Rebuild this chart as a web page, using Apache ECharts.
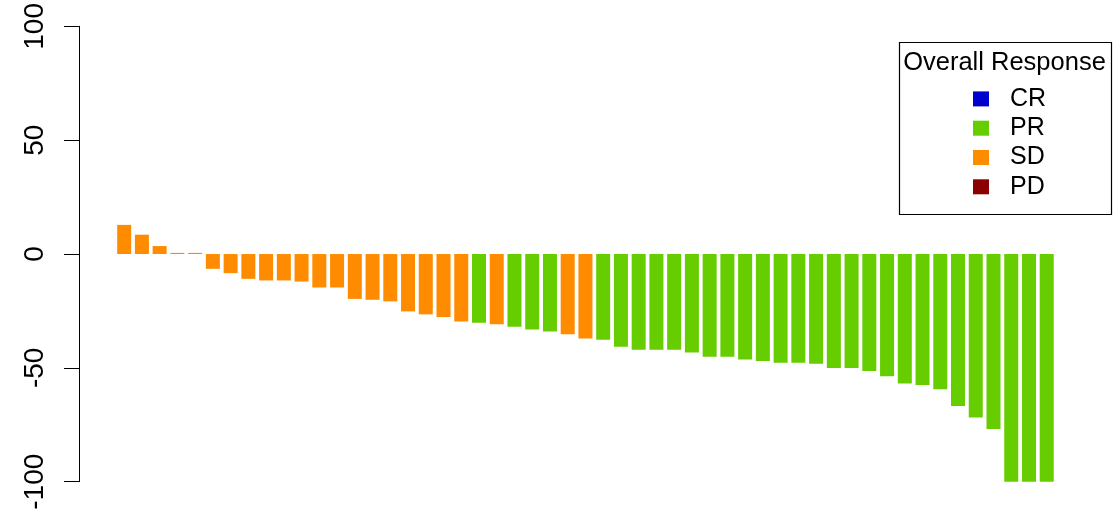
<!DOCTYPE html>
<html>
<head>
<meta charset="utf-8">
<script src="https://cdn.jsdelivr.net/npm/echarts@6/dist/echarts.min.js"></script>
<style>
  html, body { margin: 0; padding: 0; background: #ffffff; }
  #chart { width: 1117px; height: 519px; }
</style>
</head>
<body>
<div id="chart"></div>
<script>
// Patients ordered from largest growth to largest shrinkage
const patients = [
  'P01','P02','P03','P04','P05','P06','P07','P08','P09','P10',
  'P11','P12','P13','P14','P15','P16','P17','P18','P19','P20',
  'P21','P22','P23','P24','P25','P26','P27','P28','P29','P30',
  'P31','P32','P33','P34','P35','P36','P37','P38','P39','P40',
  'P41','P42','P43','P44','P45','P46','P47','P48','P49','P50',
  'P51','P52','P53'
];

// Best percent change in tumour size from baseline
const pctChange = [
  12.8, 8.5, 3.5, 0.5, 0.5, -6.5, -8.4, -10.9, -11.6, -11.6,
  -12.1, -14.7, -14.7, -19.7, -20.1, -20.8, -25.2, -26.5, -27.7, -29.6,
  -30.2, -30.8, -31.9, -33.1, -34.0, -35.2, -37.1, -37.6, -40.7, -42.0,
  -42.0, -42.0, -43.3, -45.1, -45.1, -46.3, -47.0, -47.7, -47.7, -48.2,
  -50.1, -50.1, -51.4, -53.7, -56.9, -57.5, -59.4, -66.7, -71.8, -76.8,
  -100, -100, -100
];

// Overall response per patient
const bestResponse = [
  'SD','SD','SD','SD','SD','SD','SD','SD','SD','SD',
  'SD','SD','SD','SD','SD','SD','SD','SD','SD','SD',
  'PR','SD','PR','PR','PR','SD','SD','PR','PR','PR',
  'PR','PR','PR','PR','PR','PR','PR','PR','PR','PR',
  'PR','PR','PR','PR','PR','PR','PR','PR','PR','PR',
  'PR','PR','PR'
];

const responseLevels = ['CR', 'PR', 'SD', 'PD'];
const responseColors = ['#0000CD', '#66CD00', '#FF8C00', '#8B0000'];
const yTickLabels = ['-100', '-50', '0', '50', '100'];

const FONT = '"Liberation Sans", Arial, Helvetica, sans-serif';

const chart = echarts.init(document.getElementById('chart'), null, { renderer: 'canvas' });

// One stacked bar series per response level so each bar takes its level's colour
const series = responseLevels.map((level, k) => ({
  name: level,
  type: 'bar',
  stack: 'waterfall',
  barWidth: 14,
  silent: true,
  itemStyle: { color: responseColors[k], borderWidth: 0 },
  data: pctChange.map((v, i) => (bestResponse[i] === level ? v : '-'))
}));

chart.setOption({
  animation: false,
  backgroundColor: '#ffffff',
  grid: { left: 115.3, right: 61.4, top: 25.7, bottom: 37.3 },
  xAxis: {
    type: 'category',
    data: patients,
    boundaryGap: true,
    axisLine: { show: false },
    axisTick: { show: false },
    axisLabel: { show: false },
    splitLine: { show: false }
  },
  yAxis: {
    type: 'value',
    min: -100,
    max: 100,
    interval: 50,
    offset: 36.3,
    axisLine: { show: true, lineStyle: { color: '#000', width: 1 } },
    axisTick: { show: true, length: 15, inside: false, lineStyle: { color: '#000', width: 1 } },
    axisLabel: {
      show: true,
      rotate: 90,
      margin: 30,
      color: '#000',
      fontFamily: FONT,
      fontSize: 28,
      formatter: (v) => yTickLabels[Math.round((v + 100) / 50)]
    },
    splitLine: { show: false }
  },
  legend: {
    orient: 'vertical',
    left: 973,
    top: 86.4,
    padding: 0,
    itemWidth: 16,
    itemHeight: 15,
    itemGap: 4.3,
    icon: 'rect',
    selectedMode: false,
    data: responseLevels,
    itemStyle: { borderWidth: 0 },
    formatter: (name) => '{gap|}' + name,
    textStyle: {
      color: '#000',
      fontFamily: FONT,
      fontSize: 25,
      rich: { gap: { width: 16, fontSize: 25 } }
    }
  },
  graphic: [
    {
      type: 'rect',
      shape: { x: 899.5, y: 42.5, width: 212, height: 172 },
      style: { fill: null, stroke: '#000', lineWidth: 1.2 },
      silent: true
    },
    {
      type: 'text',
      x: 1004.5,
      y: 63,
      style: {
        text: 'Overall Response',
        fill: '#000',
        font: '25.5px ' + FONT,
        textAlign: 'center',
        textVerticalAlign: 'middle'
      },
      silent: true
    }
  ],
  series: series
});
</script>
</body>
</html>
